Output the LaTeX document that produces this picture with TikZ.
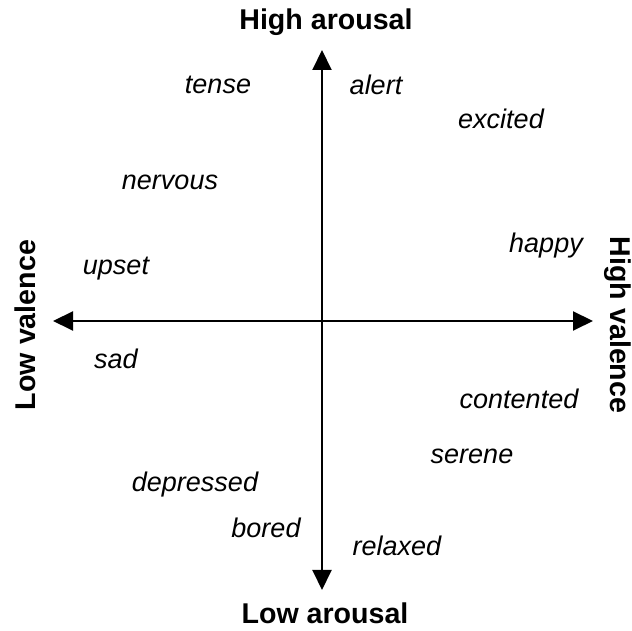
\documentclass[tikz,border=0pt]{standalone}
\usepackage{fontspec}
\setmainfont{Liberation Sans}
\usetikzlibrary{arrows.meta}
\begin{document}
\begin{tikzpicture}[x=0.5pt, y=0.5pt,
  mood/.style={font=\fontsize{13.5}{16}\selectfont\itshape},
  axislabel/.style={font=\fontsize{14.3}{17}\selectfont\bfseries},
  axis/.style={line width=1pt, -{Triangle[length=10pt, width=9.5pt]}}]
\useasboundingbox (0,0) rectangle (632,631);
\coordinate (o) at (322,310);
\coordinate (top) at (322,581);
\coordinate (bottom) at (322,41);
\coordinate (left) at (53,310);
\coordinate (right) at (593,310);
\node[axislabel] (ha) at (326,609) {High arousal};
\node[axislabel] (la) at (325,18) {Low arousal};
\node[axislabel, rotate=90] (lv) at (25,306) {Low valence};
\node[axislabel, rotate=-90] (hv) at (618,306) {High valence};
\node[mood] (tense) at (218,546) {tense};
\node[mood] (alert) at (376,546) {alert};
\node[mood] (excited) at (501,512) {excited};
\node[mood] (nervous) at (170,449) {nervous};
\node[mood] (happy) at (546,385) {happy};
\node[mood] (upset) at (116,362) {upset};
\node[mood] (sad) at (116,272) {sad};
\node[mood] (contented) at (519,232) {contented};
\node[mood] (serene) at (472,175) {serene};
\node[mood] (depressed) at (195,146) {depressed};
\node[mood] (bored) at (266,103) {bored};
\node[mood] (relaxed) at (397,85) {relaxed};
\draw[axis] (o) -- (top);
\draw[axis] (o) -- (bottom);
\draw[axis] (o) -- (left);
\draw[axis] (o) -- (right);
\end{tikzpicture}
\end{document}
